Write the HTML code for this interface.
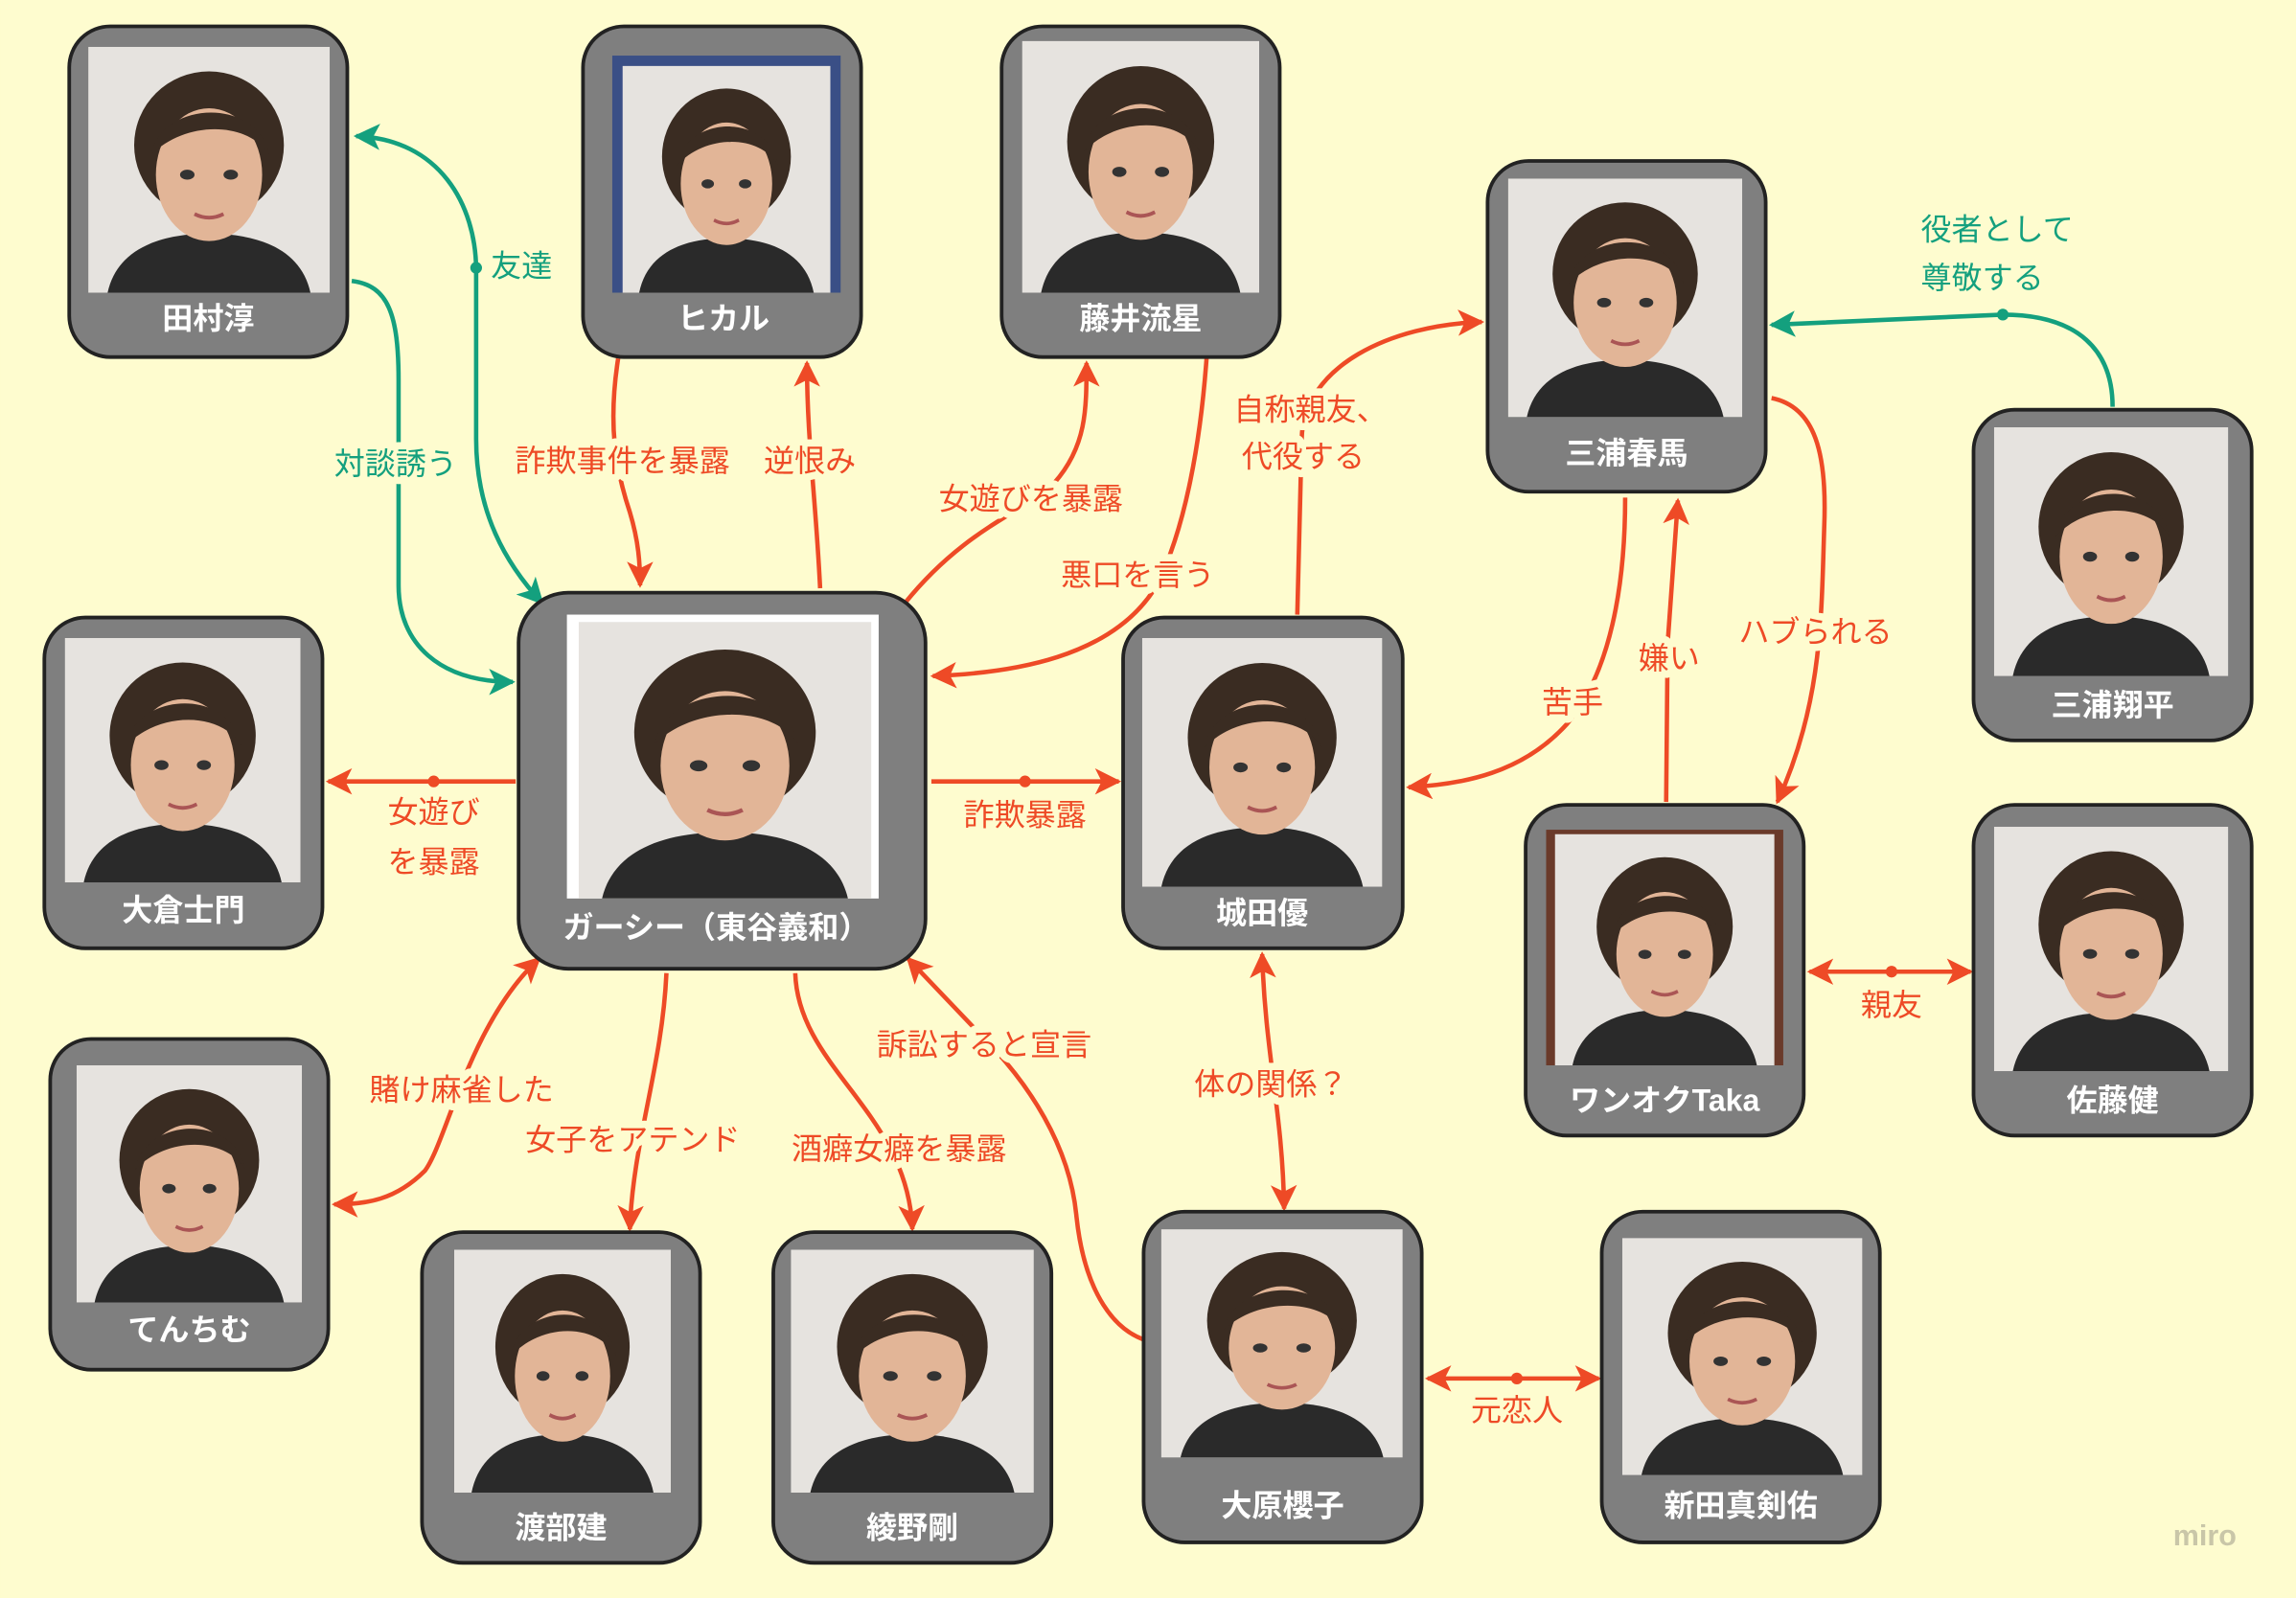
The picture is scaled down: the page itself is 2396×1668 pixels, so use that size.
<!DOCTYPE html>
<html><head><meta charset="utf-8"><style>
html,body{margin:0;padding:0;background:#fefccf}
svg{display:block}
.nl{font-family:"Liberation Sans","Noto Sans CJK JP",sans-serif;font-weight:bold;font-size:21px;fill:#fff;text-anchor:middle}
.el{font-family:"Liberation Sans","Noto Sans CJK JP",sans-serif;font-size:21px;text-anchor:middle;paint-order:stroke;stroke:#fefccf;stroke-width:10px;stroke-linejoin:round}
.r{fill:#ee4a26}.g{fill:#14a07e}
.lr{fill:none;stroke:#ee4a26;stroke-width:3}
.lg{fill:none;stroke:#14a07e;stroke-width:3}
.box{fill:#7f7f7f;stroke:#222;stroke-width:2.5}
</style></head><body>
<svg width="2396" height="1668" viewBox="0 0 1568 1092" xmlns="http://www.w3.org/2000/svg">
<defs>
<marker id="ar" viewBox="0 0 10 10" refX="9" refY="5" markerWidth="6" markerHeight="6" orient="auto-start-reverse" markerUnits="strokeWidth"><path d="M0,0 L10,5 L0,10 L2.5,5 z" fill="#ee4a26"/></marker>
<marker id="ag" viewBox="0 0 10 10" refX="9" refY="5" markerWidth="6" markerHeight="6" orient="auto-start-reverse" markerUnits="strokeWidth"><path d="M0,0 L10,5 L0,10 L2.5,5 z" fill="#14a07e"/></marker>
<symbol id="face" viewBox="0 0 100 100" preserveAspectRatio="none">
<rect width="100" height="100" fill="#e6e3df"/>
<ellipse cx="50" cy="40" rx="31" ry="30" fill="#3a2c22"/>
<path d="M8,100 C12,82 30,76 50,76 C70,76 88,82 92,100 Z" fill="#2a2a2a"/>
<ellipse cx="50" cy="52" rx="22" ry="27" fill="#e2b597"/>
<path d="M26,44 C30,22 70,20 75,44 C66,30 40,30 26,44 Z" fill="#3a2c22"/>
<ellipse cx="41" cy="52" rx="3" ry="2" fill="#333"/><ellipse cx="59" cy="52" rx="3" ry="2" fill="#333"/>
<path d="M44,68 Q50,71 56,68" stroke="#a55" stroke-width="1.5" fill="none"/>
</symbol>
</defs>
<rect width="1568" height="1092" fill="#fefccf"/>

<!-- connectors -->
<path class="lg" d="M243,93 C300,95 325,140 325,185 L325,300 C325,350 345,385 370,412" marker-start="url(#ag)" marker-end="url(#ag)"/>
<circle cx="325" cy="183" r="4" fill="#14a07e"/>
<path class="lg" d="M240,192 C265,195 272,215 272,260 L272,400 C272,440 300,466 350,466" marker-end="url(#ag)"/>
<path class="lr" d="M422,245 C415,290 420,320 430,350 C436,370 437,385 437,400" marker-end="url(#ar)"/>
<path class="lr" d="M560,402 C557,340 551,300 551,248" marker-end="url(#ar)"/>
<path class="lr" d="M618,412 C660,360 700,350 720,330 C742,305 742,280 742,248" marker-end="url(#ar)"/>
<path class="lr" d="M824,245 C820,300 810,360 790,400 C760,450 690,460 637,462" marker-end="url(#ar)"/>
<path class="lr" d="M886,420 L889,300 C890,250 950,222 1012,220" marker-end="url(#ar)"/>
<path class="lg" d="M1443,278 C1443,240 1420,215 1368,215 L1210,222" marker-end="url(#ag)"/>
<circle cx="1368" cy="215" r="4" fill="#14a07e"/>
<path class="lr" d="M1110,340 C1110,400 1100,460 1070,495 C1040,528 1000,536 962,538" marker-end="url(#ar)"/>
<path class="lr" d="M1138,548 L1139,440 L1146,342" marker-end="url(#ar)"/>
<path class="lr" d="M1210,272 C1240,278 1248,310 1246,360 C1244,420 1245,480 1214,548" marker-end="url(#ar)"/>
<path class="lr" d="M352,534 L224,534" marker-end="url(#ar)"/>
<circle cx="296" cy="534" r="4" fill="#ee4a26"/>
<path class="lr" d="M636,534 L764,534" marker-end="url(#ar)"/>
<circle cx="700" cy="534" r="4" fill="#ee4a26"/>
<path class="lr" d="M862,652 C864,720 876,760 877,826" marker-start="url(#ar)" marker-end="url(#ar)"/>
<path class="lr" d="M1236,664 L1346,664" marker-start="url(#ar)" marker-end="url(#ar)"/>
<circle cx="1292" cy="664" r="4" fill="#ee4a26"/>
<path class="lr" d="M975,942 L1092,942" marker-start="url(#ar)" marker-end="url(#ar)"/>
<circle cx="1036" cy="942" r="4" fill="#ee4a26"/>
<path class="lr" d="M368,655 C320,700 305,780 290,800 C270,820 250,823 228,823" marker-start="url(#ar)" marker-end="url(#ar)"/>
<path class="lr" d="M455,665 C452,730 432,780 430,840" marker-end="url(#ar)"/>
<path class="lr" d="M543,665 C545,730 620,760 623,840" marker-end="url(#ar)"/>
<path class="lr" d="M793,918 C760,915 740,880 735,830 C730,780 700,740 680,718 L620,655" marker-end="url(#ar)"/>

<!-- edge labels -->
<text class="el g" x="335" y="189" style="text-anchor:start">友達</text>
<text class="el g" x="270" y="324">対談誘う</text>
<text class="el r" x="425" y="322">詐欺事件を暴露</text>
<text class="el r" x="553" y="322">逆恨み</text>
<text class="el r" x="704" y="348">女遊びを暴露</text>
<text class="el r" x="777" y="400">悪口を言う</text>
<text class="el r" x="895" y="287">自称親友、</text>
<text class="el r" x="890" y="319">代役する</text>
<text class="el g" x="1312" y="164" style="text-anchor:start">役者として</text>
<text class="el g" x="1312" y="197" style="text-anchor:start">尊敬する</text>
<text class="el r" x="1074" y="487">苦手</text>
<text class="el r" x="1140" y="457">嫌い</text>
<text class="el r" x="1240" y="439">ハブられる</text>
<text class="el r" x="296" y="562">女遊び</text>
<text class="el r" x="296" y="596">を暴露</text>
<text class="el r" x="700" y="564">詐欺暴露</text>
<text class="el r" x="868" y="748">体の関係？</text>
<text class="el r" x="1292" y="694">親友</text>
<text class="el r" x="1036" y="971">元恋人</text>
<text class="el r" x="315" y="752">賭け麻雀した</text>
<text class="el r" x="432" y="786">女子をアテンド</text>
<text class="el r" x="614" y="792">酒癖女癖を暴露</text>
<text class="el r" x="672" y="721">訴訟すると宣言</text>

<!-- nodes -->
<rect class="box" x="47" y="18" width="190" height="226" rx="28"/><use href="#face" x="60" y="32" width="165" height="168"/><text class="nl" x="142" y="225">田村淳</text>
<rect class="box" x="398" y="18" width="190" height="226" rx="28"/><rect x="418" y="38" width="156" height="162" fill="#3a4f86"/><use href="#face" x="425" y="45" width="142" height="155"/><text class="nl" x="494" y="225">ヒカル</text>
<rect class="box" x="684" y="18" width="190" height="226" rx="28"/><use href="#face" x="698" y="28" width="162" height="172"/><text class="nl" x="779" y="225">藤井流星</text>
<rect class="box" x="1016" y="110" width="190" height="226" rx="28"/><use href="#face" x="1030" y="122" width="160" height="163"/><text class="nl" x="1111" y="317">三浦春馬</text>
<rect class="box" x="1348" y="280" width="190" height="226" rx="28"/><use href="#face" x="1362" y="292" width="160" height="170"/><text class="nl" x="1443" y="489">三浦翔平</text>
<rect class="box" x="30" y="422" width="190" height="226" rx="28"/><use href="#face" x="44" y="436" width="161" height="167"/><text class="nl" x="125" y="629">大倉士門</text>
<rect class="box" x="354" y="405" width="278" height="257" rx="34"/><rect x="387" y="420" width="213" height="194" fill="#fff"/><use href="#face" x="395" y="425" width="200" height="189"/><text class="nl" x="489" y="641">ガーシー（東谷義和）</text>
<rect class="box" x="767" y="422" width="191" height="226" rx="28"/><use href="#face" x="780" y="436" width="164" height="170"/><text class="nl" x="862" y="631">城田優</text>
<rect class="box" x="1042" y="550" width="190" height="226" rx="28"/><rect x="1056" y="567" width="162" height="161" fill="#6a3a2a"/><use href="#face" x="1062" y="570" width="150" height="158"/><text class="nl" x="1137" y="759">ワンオクTaka</text>
<rect class="box" x="1348" y="550" width="190" height="226" rx="28"/><use href="#face" x="1362" y="565" width="160" height="167"/><text class="nl" x="1443" y="759">佐藤健</text>
<rect class="box" x="34" y="710" width="190" height="226" rx="28"/><use href="#face" x="52" y="728" width="154" height="162"/><text class="nl" x="129" y="916">てんちむ</text>
<rect class="box" x="288" y="842" width="190" height="226" rx="28"/><use href="#face" x="310" y="854" width="148" height="166"/><text class="nl" x="383" y="1051">渡部建</text>
<rect class="box" x="528" y="842" width="190" height="226" rx="28"/><use href="#face" x="540" y="854" width="166" height="166"/><text class="nl" x="623" y="1051">綾野剛</text>
<rect class="box" x="781" y="828" width="190" height="226" rx="28"/><use href="#face" x="793" y="840" width="165" height="156"/><text class="nl" x="876" y="1036">大原櫻子</text>
<rect class="box" x="1094" y="828" width="190" height="226" rx="28"/><use href="#face" x="1108" y="846" width="164" height="162"/><text class="nl" x="1189" y="1036">新田真剣佑</text>

<text x="1506" y="1056" style="font-family:'Liberation Sans',sans-serif;font-size:20px;font-weight:bold;fill:#c9c6a8;text-anchor:middle">miro</text>
</svg>
</body></html>
